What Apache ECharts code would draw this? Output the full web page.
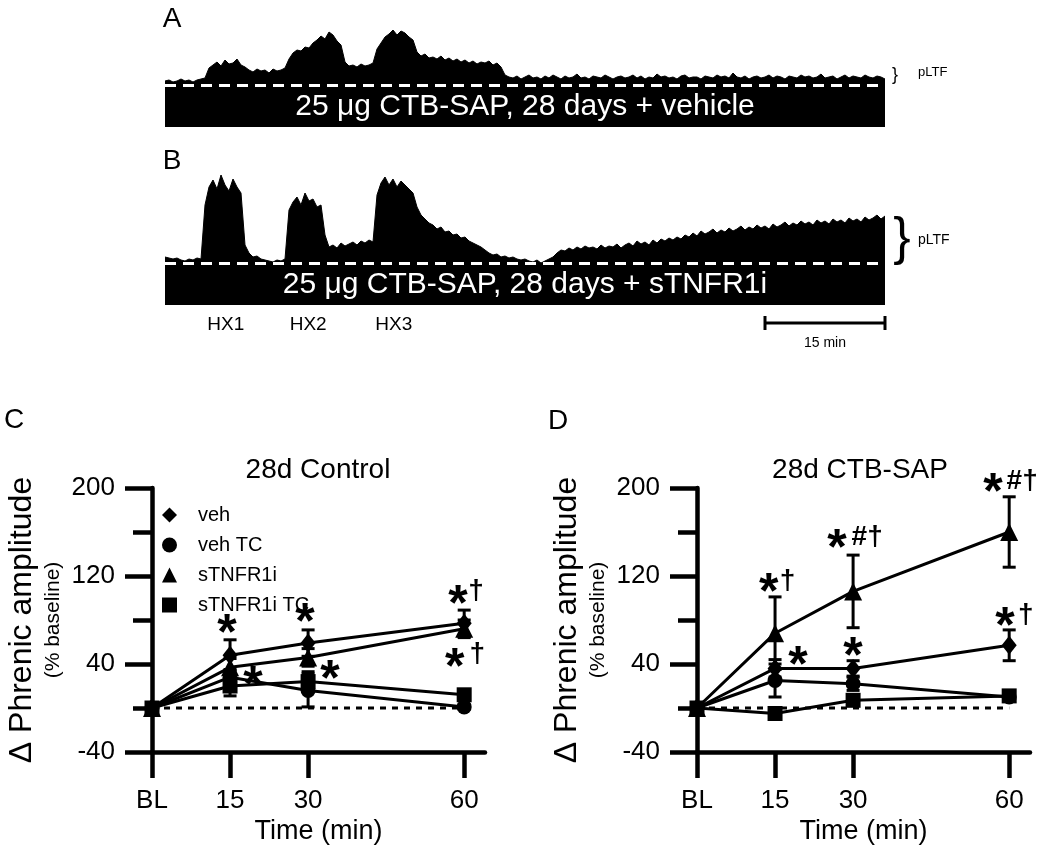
<!DOCTYPE html>
<html><head><meta charset="utf-8">
<script src="https://cdn.jsdelivr.net/npm/echarts@6/dist/echarts.min.js"></script>
<style>html,body{margin:0;padding:0;background:#fff}#c{width:1045px;height:849px}</style>
</head><body><div id="c"></div><script>
// ---------- Panel A / B : raw phrenic traces (height above baseline, 0.5-min samples, 0–90 min)
const timeStep = 0.5;
const traceA = [6,7,5,6,8,6,7,5,7,8, 9,19, 22,25,21,27,23,24,28,22,
 20,17,15,18,16,17,14,18,16,17,19, 28,34,37,36,40,39,44,47,51,48,55,52,46,42,
 25,21,22,20,23,21,22,24, 38,44,50,53,57,52,56,54,50,47,
 35,31,33,29,30,28,31,27,29,26,28,25,27,24,26,23,25,24,26,22,24,20,12,
 10,9,11,8,10,12,9,10,8,11, 9,12,10,8,11,9,10,13,9,10, 8,11,10,9,12,10,8,10,11,9,
 10,12,9,11,8,10,9,13,10,11, 9,10,8,11,12,9,10,10,8,11, 10,9,12,10,11,9,14,10,9,11,
 8,10,11,9,10,12,9,11,10,8, 11,10,9,12,10,11,9,10,13,9, 10,11,8,10,12,9,11,10,9,12, 10,9,11,10,8];
const traceB = [8,7,6,7,5,4,6,5,7,6, 60,78,85,76,90,80,74,86,78,72,
 20,12,8,9,6,5,4,3,5,4,6, 55,63,68,60,72,64,66,58,60,30,
 18,20,17,22,19,21,23,20,24,22,25,23, 70,82,88,80,86,78,84,80,76,72,
 58,50,46,42,40,36,38,33,34,30,31,27,28,24,22,20,18,15,12,10,11,8,9,7,8,6,5,6,4,3,5,2,4,6,
 8,12,15,14,17,15,18,16,19,17,18,16,20,17,19,18,21,17,20,22,19,24,21,23,20,25,22,26,24,27,25,28,26,30,
 28,32,29,34,31,33,36,32,35,33,37,34,36,39,35,38,36,40,37,39,36,41,38,40,43,39,42,40,44,41,
 43,40,45,42,44,41,46,43,45,42,47,44,46,43,48,45,47,50,46,49];
const barTextA = '25 μg CTB-SAP, 28 days + vehicle';
const barTextB = '25 μg CTB-SAP, 28 days + sTNFR1i';
const hxNames = ['HX1','HX2','HX3'];
const hxTimes = [7.6, 17.9, 28.6];
const scaleBarMin = [75, 90];
const scaleBarText = '15 min';

// ---------- Panel C / D : pLTF time course
const timePoints = [0, 15, 30, 60];
const timeLabels = ['BL', '15', '30', '60'];
const seriesNames = ['veh', 'veh TC', 'sTNFR1i', 'sTNFR1i TC'];
const seriesSymbols = ['diamond', 'circle', 'triangle', 'rect'];
// 28d Control
const ctlVeh = [0, 48, 59, 77];      const ctlVehErr = [0, 14, 12, 12];
const ctlVehTC = [0, 28, 16, 1];     const ctlVehTCErr = [0, 7, 15, 2];
const ctlTNF = [0, 37, 46, 72];      const ctlTNFErr = [0, 8, 8, 8];
const ctlTNFTC = [0, 20, 24, 12];    const ctlTNFTCErr = [0, 9, 9, 4];
// 28d CTB-SAP
const sapVeh = [0, 36, 36, 57];      const sapVehErr = [0, 8, 7, 14];
const sapVehTC = [0, 25, 22, 10];    const sapVehTCErr = [0, 15, 6, 3];
const sapTNF = [0, 68, 106, 160];    const sapTNFErr = [0, 33, 33, 32];
const sapTNFTC = [0, -5, 7, 11];     const sapTNFTCErr = [0, 2, 3, 3];
// significance marks  [time, value]
const ctlStars = [[14.4,77],[29.4,87],[19.4,30],[34.2,35],[58.8,103],[58.2,46]];
const ctlMarks = [[62.3,106,'†'],[62.5,49,'†']];
const sapStars = [[13.8,114],[19.4,48],[26.9,154],[30.0,56],[56.9,205],[59.2,83]];
const sapMarks = [[17.4,115,'†'],[32.7,155,'#†'],[62.5,206,'#†'],[63.2,84,'†']];

const FF = "'Liberation Sans', Arial, sans-serif";
const chart = echarts.init(document.getElementById('c'));

function errRender(params, api) {
  const x = api.value(0), lo = api.value(1), hi = api.value(2);
  const p1 = api.coord([x, lo]), p2 = api.coord([x, hi]);
  const w = 6.5, st = {stroke: '#000', lineWidth: 3};
  return {type: 'group', children: [
    {type: 'line', shape: {x1: p1[0], y1: p1[1], x2: p2[0], y2: p2[1]}, style: st},
    {type: 'line', shape: {x1: p1[0]-w, y1: p1[1], x2: p1[0]+w, y2: p1[1]}, style: st},
    {type: 'line', shape: {x1: p2[0]-w, y1: p2[1], x2: p2[0]+w, y2: p2[1]}, style: st}
  ]};
}
const symSizes = {diamond: [15, 19], circle: 15, triangle: 18, rect: 15};
const clearItem = {color: 'rgba(0,0,0,0)', opacity: 1};

function panelSeries(idx, means, errs, stars, marks) {
  const out = [];
  out.push({type: 'line', xAxisIndex: idx, yAxisIndex: idx, data: [[0,0],[60,0]], symbol: 'none', silent: true,
    lineStyle: {color: '#000', width: 3, type: [6, 6]}, z: 1});
  means.forEach((m, k) => {
    const ed = [];
    for (let i = 1; i < m.length; i++) if (errs[k][i] > 0) ed.push([timePoints[i], m[i]-errs[k][i], m[i]+errs[k][i]]);
    out.push({type: 'custom', xAxisIndex: idx, yAxisIndex: idx, renderItem: errRender, data: ed, silent: true, z: 2});
  });
  means.forEach((m, k) => {
    out.push({type: 'line', name: seriesNames[k], xAxisIndex: idx, yAxisIndex: idx,
      data: m.map((v, i) => [timePoints[i], v]), symbol: seriesSymbols[k], symbolSize: symSizes[seriesSymbols[k]],
      lineStyle: {color: '#000', width: 3}, itemStyle: {color: '#000', borderWidth: 0}, z: 3 + k});
  });
  out.push({type: 'scatter', xAxisIndex: idx, yAxisIndex: idx, data: stars, symbolSize: 1, clip: false, silent: true,
    itemStyle: clearItem, z: 10,
    label: {show: true, position: 'inside', formatter: '*', fontSize: 50, fontWeight: 'bold', fontFamily: FF,
      color: '#000', textBorderWidth: 0, opacity: 1, offset: [0, 12]}});
  out.push({type: 'scatter', xAxisIndex: idx, yAxisIndex: idx, data: marks, symbolSize: 1, clip: false, silent: true,
    itemStyle: clearItem, z: 10,
    label: {show: true, position: 'inside', formatter: p => p.value[2], fontSize: 28, fontWeight: 'bold', fontFamily: FF,
      color: '#000', textBorderWidth: 0, opacity: 1}});
  return out;
}

function makeX(g) {
  return {gridIndex: g, type: 'value', min: 0, max: 64,
    axisLine: {show: true, onZero: false, lineStyle: {color: '#000', width: 4.5}},
    axisTick: {show: true, length: 26, customValues: timePoints, lineStyle: {color: '#000', width: 4.5}},
    axisLabel: {customValues: timePoints, formatter: v => timeLabels[timePoints.indexOf(v)], fontSize: 26, color: '#000', fontFamily: FF, margin: 36},
    splitLine: {show: false},
    name: 'Time (min)', nameLocation: 'middle', nameGap: 66,
    nameTextStyle: {fontSize: 27, color: '#000', fontFamily: FF}};
}
function makeY(g) {
  return {gridIndex: g, type: 'value', min: -40, max: 200, interval: 80,
    axisLine: {show: true, onZero: false, lineStyle: {color: '#000', width: 4.5}},
    axisTick: {show: true, length: 27, lineStyle: {color: '#000', width: 4.5}},
    minorTick: {show: true, splitNumber: 2, length: 19, lineStyle: {color: '#000', width: 4.5}},
    splitLine: {show: false}, minorSplitLine: {show: false},
    axisLabel: {fontSize: 26, color: '#000', fontFamily: FF, margin: 37},
    name: '{a|Δ Phrenic amplitude}\n{b|(% baseline)}', nameLocation: 'middle', nameRotate: 90, nameGap: 86,
    nameTextStyle: {color: '#000', fontFamily: FF, align: 'center',
      rich: {a: {fontSize: 32, fontFamily: FF, color: '#000', lineHeight: 35}, b: {fontSize: 21, fontFamily: FF, color: '#000', lineHeight: 26}}}};
}

function traceSeries(idx, trace, barText) {
  return {type: 'line', xAxisIndex: idx, yAxisIndex: idx, data: trace.map((v, i) => [i * timeStep, v]),
    symbol: 'none', silent: true, lineStyle: {color: '#000', width: 1}, areaStyle: {color: '#000', opacity: 1},
    markArea: {silent: true, itemStyle: {color: '#000'},
      label: {show: true, position: 'inside', color: '#fff', fontSize: 30, fontWeight: 'normal', fontFamily: FF, textBorderWidth: 0},
      data: [[{name: barText, xAxis: 0, yAxis: -40}, {xAxis: 90, yAxis: 0}]]},
    markLine: {silent: true, symbol: 'none', label: {show: false},
      lineStyle: {color: '#fff', width: 3, type: [11, 7]}, data: [{yAxis: 2}]}};
}

const series = [
  traceSeries(0, traceA, barTextA),
  traceSeries(1, traceB, barTextB),
  {type: 'line', xAxisIndex: 1, yAxisIndex: 1, data: scaleBarMin.map(t => [t, -58]), symbol: 'rect', symbolSize: [3, 14],
    silent: true, lineStyle: {color: '#000', width: 3}, itemStyle: {color: '#000'}},
  {type: 'scatter', xAxisIndex: 1, yAxisIndex: 1, clip: false, silent: true, symbolSize: 1, itemStyle: clearItem,
    data: hxTimes.map((t, i) => [t, -60, hxNames[i]]),
    label: {show: true, position: 'inside', formatter: p => p.value[2], color: '#000', fontFamily: FF, fontSize: 19, textBorderWidth: 0}},
  {type: 'scatter', xAxisIndex: 1, yAxisIndex: 1, clip: false, silent: true, symbolSize: 1, itemStyle: clearItem,
    data: [[(scaleBarMin[0] + scaleBarMin[1]) / 2, -78, scaleBarText]],
    label: {show: true, position: 'inside', formatter: p => p.value[2], color: '#000', fontFamily: FF, fontSize: 14, textBorderWidth: 0}},
  ...panelSeries(2, [ctlVeh, ctlVehTC, ctlTNF, ctlTNFTC], [ctlVehErr, ctlVehTCErr, ctlTNFErr, ctlTNFTCErr], ctlStars, ctlMarks),
  ...panelSeries(3, [sapVeh, sapVehTC, sapTNF, sapTNFTC], [sapVehErr, sapVehTCErr, sapTNFErr, sapTNFTCErr], sapStars, sapMarks)
];

const txt = (x, y, text, size, extra) => ({type: 'text', x, y, silent: true,
  style: Object.assign({text, fontSize: size, fontFamily: FF, fill: '#000', align: 'center', verticalAlign: 'middle'}, extra || {})});

chart.setOption({
  animation: false,
  backgroundColor: '#fff',
  grid: [
    {left: 165, width: 720, top: 17, height: 110},
    {left: 165, width: 720, top: 165, height: 185},
    {left: 152, width: 333, top: 488, height: 264},
    {left: 697, width: 333, top: 488, height: 264}
  ],
  xAxis: [
    {gridIndex: 0, type: 'value', min: 0, max: 90, show: false},
    {gridIndex: 1, type: 'value', min: 0, max: 90, show: false},
    makeX(2), makeX(3)
  ],
  yAxis: [
    {gridIndex: 0, type: 'value', min: -40, max: 70, show: false},
    {gridIndex: 1, type: 'value', min: -85, max: 100, show: false},
    makeY(2), makeY(3)
  ],
  legend: {
    data: seriesNames.map((n, i) => ({name: n, icon: seriesSymbols[i]})),
    orient: 'vertical', left: 162, top: 505, itemWidth: 15, itemHeight: 15, itemGap: 10, padding: 0,
    selectedMode: false, itemStyle: {color: '#000'},
    textStyle: {fontSize: 20, color: '#000', fontFamily: FF, padding: [0, 0, 0, 16]}
  },
  graphic: [
    txt(172, 19, 'A', 28), txt(172, 161, 'B', 28), txt(14, 420, 'C', 28), txt(558, 421, 'D', 28),
    txt(318, 470, '28d Control', 28), txt(860, 470, '28d CTB-SAP', 28),
    txt(895, 75, '}', 18), txt(918, 72, 'pLTF', 13, {align: 'left'}),
    txt(902, 240, '}', 52, {}), txt(918, 240, 'pLTF', 14, {align: 'left'})
  ],
  series
});
</script></body></html>
